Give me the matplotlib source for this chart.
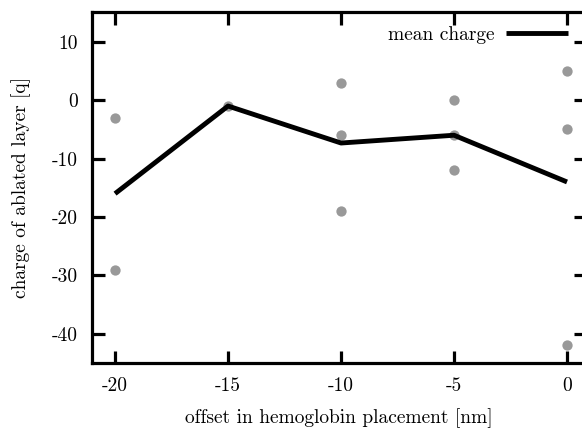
import numpy as np
import matplotlib.pyplot as plt

plt.rcParams["font.family"] = "cmr10"
plt.rcParams["mathtext.fontset"] = "cm"
plt.rcParams["font.size"] = 14

# individual runs per offset
offsets = [-20, -20, -15, -10, -10, -10, -5, -5, -5, 0, 0, 0]
charges = [-3, -29, -1, 3, -6, -19, 0, -6, -12, 5, -5, -42]

mean_x = [-20, -15, -10, -5, 0]
mean_q = [-16, -1, -22 / 3, -6, -14]

xticks = [-20, -15, -10, -5, 0]
yticks = [-40, -30, -20, -10, 0, 10]

fig = plt.figure(figsize=(5.82, 4.28), dpi=100)
ax = fig.add_axes([92 / 582, 65 / 428, 494 / 582, 351 / 428])

ax.scatter(offsets, charges, s=55, color="#999999", linewidths=0, zorder=2)
ax.plot(mean_x, mean_q, color="black", lw=3.5, label="mean charge", zorder=3,
        solid_capstyle="butt")

ax.set_xlim(-21.02, 0.84)
ax.set_ylim(-45, 15.1)
ax.set_xticks(xticks)
ax.set_xticklabels([str(t) for t in xticks])
ax.set_yticks(yticks)
ax.set_yticklabels([str(t) for t in yticks])

for s in ax.spines.values():
    s.set_linewidth(2.3)
ax.tick_params(direction="in", length=9, width=2.3, top=True, right=True, pad=10)

ax.set_xlabel("offset in hemoglobin placement [nm]", labelpad=10)
ax.set_ylabel("charge of ablated layer [q]", labelpad=15)

ax.legend(loc="upper right", frameon=False, markerfirst=False, handlelength=3.2,
          borderaxespad=0.15, bbox_to_anchor=(0.986, 0.99), handletextpad=0.6)

fig.savefig("out.png", dpi=100)
